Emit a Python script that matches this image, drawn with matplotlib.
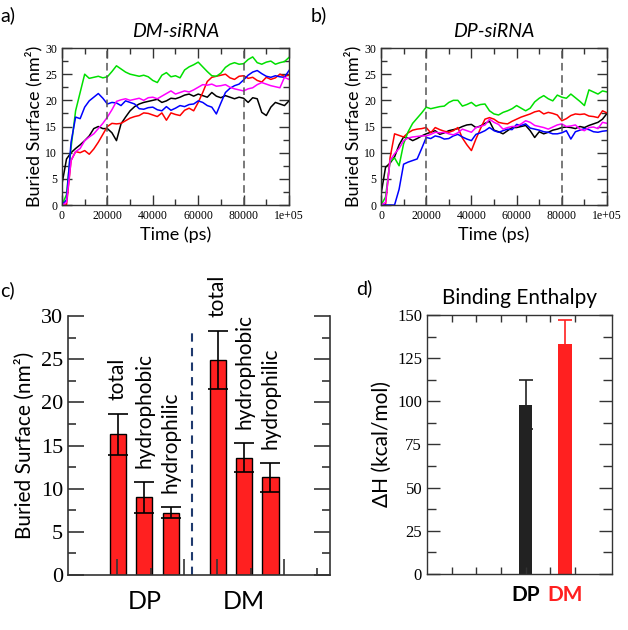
import numpy as np
import matplotlib
matplotlib.use("Agg")
import matplotlib.pyplot as plt

plt.rcParams['font.family'] = ['Lato', 'DejaVu Sans']

# time axis for the MD runs (ps)
time_ps = np.arange(0, 100001, 2000)

# a) DM-siRNA buried surface (nm2)
a_black = [4, 8.8, 10.0, 10.8, 11.5, 12.3, 13.2, 14.6, 15.0, 14.6, 14.6, 13.8, 12.3, 15.5, 16.8, 18.0, 18.8,
           19.3, 19.6, 19.8, 20.0, 20.2, 19.6, 19.9, 20.4, 20.3, 20.6, 21.0, 21.2, 20.8, 21.2, 20.9, 20.6, 21.5,
           20.8, 20.5, 20.9, 20.6, 20.3, 20.6, 20.4, 19.6, 20.5, 20.3, 17.7, 17.1, 18.7, 19.6, 19.3, 19.0, 19.9]
a_red = [0, 0, 8.5, 10.2, 10.0, 10.4, 9.7, 10.7, 12.0, 13.5, 15.0, 15.6, 15.5, 15.6, 16.1, 16.6, 16.9, 17.1,
         17.6, 17.5, 17.2, 16.9, 17.6, 16.2, 17.6, 17.3, 17.1, 18.1, 18.5, 18.0, 19.6, 21.5, 23.6, 24.4, 24.6,
         24.8, 25.0, 24.3, 24.0, 24.6, 24.7, 24.2, 24.4, 23.8, 23.5, 24.4, 24.0, 24.3, 25.0, 24.6, 24.8]
a_green = [0, 2, 11, 18, 21.5, 25, 24.2, 24.4, 24.6, 24.3, 24.5, 25.5, 26.6, 26, 25.4, 25, 24.8, 24.6, 24.8,
           24.5, 23.8, 23.4, 24.8, 25.3, 24.5, 24.7, 24.3, 25.8, 26.4, 26.8, 27.3, 26.4, 25.5, 24.7, 24.6, 25.2,
           26.3, 26.9, 27.2, 26.9, 27, 27.8, 28.3, 27.2, 26.9, 27.3, 27.5, 26.9, 27.2, 27.4, 28.2]
a_blue = [0, 1, 12, 16.8, 16.5, 18.7, 19.9, 20.6, 21.3, 20.4, 19.3, 19.6, 19.5, 19.0, 19.9, 19.6, 19.3, 18.4,
          18.3, 18.6, 18.7, 18.2, 18.0, 18.8, 18.1, 18.5, 19.0, 18.8, 19.2, 19.3, 19.9, 19.6, 19.0, 18.7, 17.4,
          19.5, 21.5, 22.3, 22.8, 23.1, 23.9, 24.8, 25.4, 25.7, 25.1, 24.6, 24.4, 24.7, 24.5, 24.4, 25.7]
a_magenta = [0, 0.5, 8.5, 10.2, 10.8, 12.3, 13.0, 13.6, 14.6, 15.6, 16.8, 18.2, 19.8, 20.1, 20.3, 20.0, 20.2,
             20.4, 20.0, 20.5, 20.6, 20.3, 20.8, 21.3, 21.8, 21.2, 21.5, 21.8, 21.6, 22.0, 22.5, 23.0, 22.9,
             23.1, 22.7, 22.8, 23.0, 22.5, 22.2, 22.0, 21.8, 22.2, 22.4, 23.0, 23.4, 23.1, 22.8, 22.6, 22.4,
             24.4, 24.0]

# b) DP-siRNA buried surface (nm2)
b_black = [2, 7.2, 8.0, 9.2, 11.5, 13.0, 12.8, 12.3, 12.7, 13.2, 13.6, 13.9, 14.2, 13.5, 13.8, 14.2, 14.4,
           14.6, 15.0, 15.3, 15.4, 14.8, 15.1, 15.6, 16.0, 14.3, 14.0, 13.6, 14.2, 14.8, 14.8, 15.0, 15.2, 14.2,
           12.9, 14.0, 13.6, 13.9, 14.3, 14.5, 14.8, 14.9, 14.8, 14.6, 15.0, 14.8, 15.2, 15.5, 15.8, 16.4, 17.5]
b_red = [0, 0, 9, 13.6, 13.3, 13.0, 13.8, 14.3, 14.5, 14.6, 14.8, 13.8, 14.8, 14.4, 14.1, 13.9, 14.2, 14.8,
         12.8, 11.5, 10.4, 12.6, 14.6, 16.4, 16.7, 16.4, 15.8, 15.6, 15.5, 16.0, 16.4, 16.8, 17.1, 17.4, 17.8,
         18.0, 17.4, 17.7, 17.5, 17.2, 16.1, 16.5, 17.1, 17.4, 17.3, 17.4, 17.0, 16.9, 16.7, 18.0, 17.6]
b_green = [0, 1.5, 8.3, 9.0, 7.5, 11.7, 14.0, 15.6, 16.6, 17.6, 18.7, 18.4, 18.6, 18.8, 18.9, 19.6, 20.0,
           20.0, 18.9, 19.2, 19.6, 18.9, 19.2, 19.3, 18.0, 17.4, 17.2, 17.7, 18.0, 18.4, 19.0, 18.5, 18.0, 18.5,
           19.7, 20.4, 20.9, 20.3, 19.9, 21.0, 20.6, 20.4, 21.2, 20.5, 19.8, 19.0, 22.0, 21.6, 21.2, 21.8, 21.6]
b_blue = [0, 0, 0, 0, 3.0, 7.8, 8.2, 8.5, 8.8, 10.8, 12.9, 12.7, 13.2, 13.0, 12.6, 12.7, 13.2, 13.5, 13.0,
          12.6, 12.3, 13.5, 13.8, 14.2, 14.8, 14.2, 13.9, 14.2, 14.5, 14.4, 15.4, 15.2, 15.5, 14.7, 14.5, 14.3,
          14.0, 13.9, 13.6, 13.6, 13.8, 14.2, 12.6, 14.0, 14.3, 14.6, 14.4, 14.0, 13.9, 14.1, 14.2]
b_magenta = [0, 0.5, 8.5, 9.8, 10.8, 12.3, 12.8, 13.0, 13.1, 13.2, 13.2, 13.5, 13.9, 13.8, 13.9, 13.6, 13.4,
             13.8, 14.5, 14.2, 13.9, 14.8, 15.0, 15.3, 16.4, 15.8, 15.4, 14.5, 14.8, 15.0, 15.0, 15.5, 16.1,
             15.8, 15.2, 15.0, 14.8, 14.5, 14.9, 15.3, 15.5, 15.0, 15.1, 15.3, 14.5, 14.2, 14.8, 14.9, 14.6,
             15.8, 15.6]

# c) average buried surface
surf_labels = ['total', 'hydrophobic', 'hydrophilic']
dp_surf = [16.3, 9.0, 7.2]
dp_surf_err = [2.4, 1.8, 0.65]
dm_surf = [24.9, 13.6, 11.3]
dm_surf_err = [3.35, 1.7, 1.7]

# d) binding enthalpy
dh_labels = ['DP', 'DM']
dh_values = [98.1, 133.4]
dh_err = [14.3, 13.7]

line_colors = ['black', '#ff0000', '#00e000', '#0000ff', '#ff00ff']
serif = 'Liberation Serif'
spine_col = '#333333'


def style_frame(ax):
    for s in ax.spines.values():
        s.set_color(spine_col)
        s.set_linewidth(1.0)
    ax.tick_params(which='both', direction='in', top=True, right=True, color=spine_col)


def md_panel(ax, series, title):
    for y, c in zip(series, line_colors):
        ax.plot(time_ps, y, color=c, lw=1.1)
    ax.axvline(20000, color='#555555', ls=(0, (5, 3)), lw=1.1)
    ax.axvline(80000, color='#555555', ls=(0, (5, 3)), lw=1.1)
    ax.set_xlim(0, 100000)
    ax.set_ylim(0, 30)
    ax.set_xticks(np.arange(0, 100001, 20000))
    ax.set_xticklabels(['0', '20000', '40000', '60000', '80000', '1e+05'])
    ax.set_xticks(np.arange(10000, 100000, 20000), minor=True)
    ax.set_yticks(np.arange(0, 31, 5))
    ax.set_yticks(np.arange(2.5, 30, 5), minor=True)
    style_frame(ax)
    ax.tick_params(which='major', length=7, width=1)
    ax.tick_params(which='minor', length=4.3, width=1)
    for lab in ax.get_xticklabels() + ax.get_yticklabels():
        lab.set_fontfamily(serif)
        lab.set_fontsize(8.5)
    ax.set_xlabel('Time (ps)', fontsize=13, labelpad=3)
    ax.set_ylabel('Buried Surface (nm²)', fontsize=13, labelpad=2)
    ax.set_title(title, fontsize=14, style='italic', pad=8)


fig = plt.figure(figsize=(6.28, 6.30), dpi=100)

ax_a = fig.add_axes([0.0987, 0.6746, 0.3615, 0.2492])
md_panel(ax_a, [a_black, a_red, a_green, a_blue, a_magenta], 'DM-siRNA')
ax_b = fig.add_axes([0.6067, 0.6746, 0.3599, 0.2492])
md_panel(ax_b, [b_black, b_red, b_green, b_blue, b_magenta], 'DP-siRNA')

# c) bars
ax_c = fig.add_axes([0.1083, 0.0873, 0.4172, 0.4111])
bar_w = 0.62
dp_x = 1.92 + np.arange(3) * 1.02
dm_x = 5.77 + np.arange(3) * 1.01
ekw = dict(ecolor='black', elinewidth=1.2, capthick=1.2)
ax_c.bar(dp_x, dp_surf, bar_w, yerr=dp_surf_err, color='#ff2020', edgecolor='black', lw=1,
         capsize=7, error_kw=ekw)
ax_c.bar(dm_x, dm_surf, bar_w, yerr=dm_surf_err, color='#ff2020', edgecolor='black', lw=1,
         capsize=7, error_kw=ekw)
for xs, vals, errs in [(dp_x, dp_surf, dp_surf_err), (dm_x, dm_surf, dm_surf_err)]:
    for x, v, e, lab in zip(xs, vals, errs, surf_labels):
        ax_c.text(x, v + e + 1.6, lab, rotation=90, ha='center', va='bottom', fontsize=15, clip_on=False)
ax_c.axvline(4.77, ymin=0, ymax=0.94, color='#1f3a6e', ls=(0, (4, 3)), lw=1.5)
ax_c.set_xlim(0, 10.08)
ax_c.set_ylim(0, 30)
ax_c.spines['top'].set_visible(False)
for s in ax_c.spines.values():
    s.set_color(spine_col)
    s.set_linewidth(1.2)
ax_c.set_yticks(np.arange(0, 31, 5))
ax_c.set_yticks(np.arange(2.5, 30, 5), minor=True)
ax_c.set_xticks([1.9, 4.46, 5.74, 8.31])
ax_c.set_xticks([3.19, 7.04, 9.59], minor=True)
ax_c.set_xticklabels([])
ax_c.tick_params(which='both', direction='in', right=True, top=False, color=spine_col, width=1.2)
ax_c.tick_params(axis='y', which='major', length=11.5)
ax_c.tick_params(axis='y', which='minor', length=5.8)
ax_c.tick_params(axis='x', which='major', length=11.5)
ax_c.tick_params(axis='x', which='minor', length=5)
for lab in ax_c.get_yticklabels():
    lab.set_fontfamily(serif)
    lab.set_fontsize(16)
ax_c.set_ylabel('Buried Surface (nm²)', fontsize=15, labelpad=4)
ax_c.text(np.mean(dp_x), -0.104, 'DP', transform=ax_c.get_xaxis_transform(), ha='center', va='center',
          fontsize=18)
ax_c.text(np.mean(dm_x), -0.104, 'DM', transform=ax_c.get_xaxis_transform(), ha='center', va='center',
          fontsize=18)

# d) enthalpy
ax_d = fig.add_axes([0.6799, 0.0889, 0.2946, 0.4111])
dh_x = [4.0, 5.6]
dh_colors = ['#222222', '#ff2020']
for x, v, e, c in zip(dh_x, dh_values, dh_err, dh_colors):
    ax_d.bar(x, v, 0.55, color=c)
    ax_d.errorbar(x, v, yerr=e, color=c, capsize=5, elinewidth=1.2, capthick=1.2, fmt='none')
ax_d.set_xlim(0, 7.5)
ax_d.set_ylim(0, 150)
ax_d.set_yticks(np.arange(0, 151, 25))
ax_d.set_yticks(np.arange(12.5, 150, 25), minor=True)
ax_d.set_xticks(np.arange(1, 7))
ax_d.set_xticklabels([])
style_frame(ax_d)
ax_d.tick_params(axis='y', which='major', length=9.4, width=1)
ax_d.tick_params(axis='y', which='minor', length=6.5, width=1)
ax_d.tick_params(axis='x', which='major', length=5, width=1)
for lab in ax_d.get_yticklabels():
    lab.set_fontfamily(serif)
    lab.set_fontsize(12)
ax_d.set_ylabel('ΔH (kcal/mol)', fontsize=15, labelpad=4)
ax_d.set_title('Binding Enthalpy', fontsize=15, pad=8)
for x, lab, c in zip(dh_x, dh_labels, dh_colors):
    ax_d.text(x, -0.081, lab, transform=ax_d.get_xaxis_transform(), ha='center', va='center',
              fontsize=15, fontweight='bold', color='black' if lab == 'DP' else '#ff2020')

# panel letters
for txt, x, y in [('a)', 0.0, 0.976), ('b)', 0.494, 0.976), ('c)', 0.0, 0.54), ('d)', 0.567, 0.543)]:
    fig.text(x, y, txt, fontsize=14, va='center', ha='left')

fig.savefig('out.png', dpi=100)
